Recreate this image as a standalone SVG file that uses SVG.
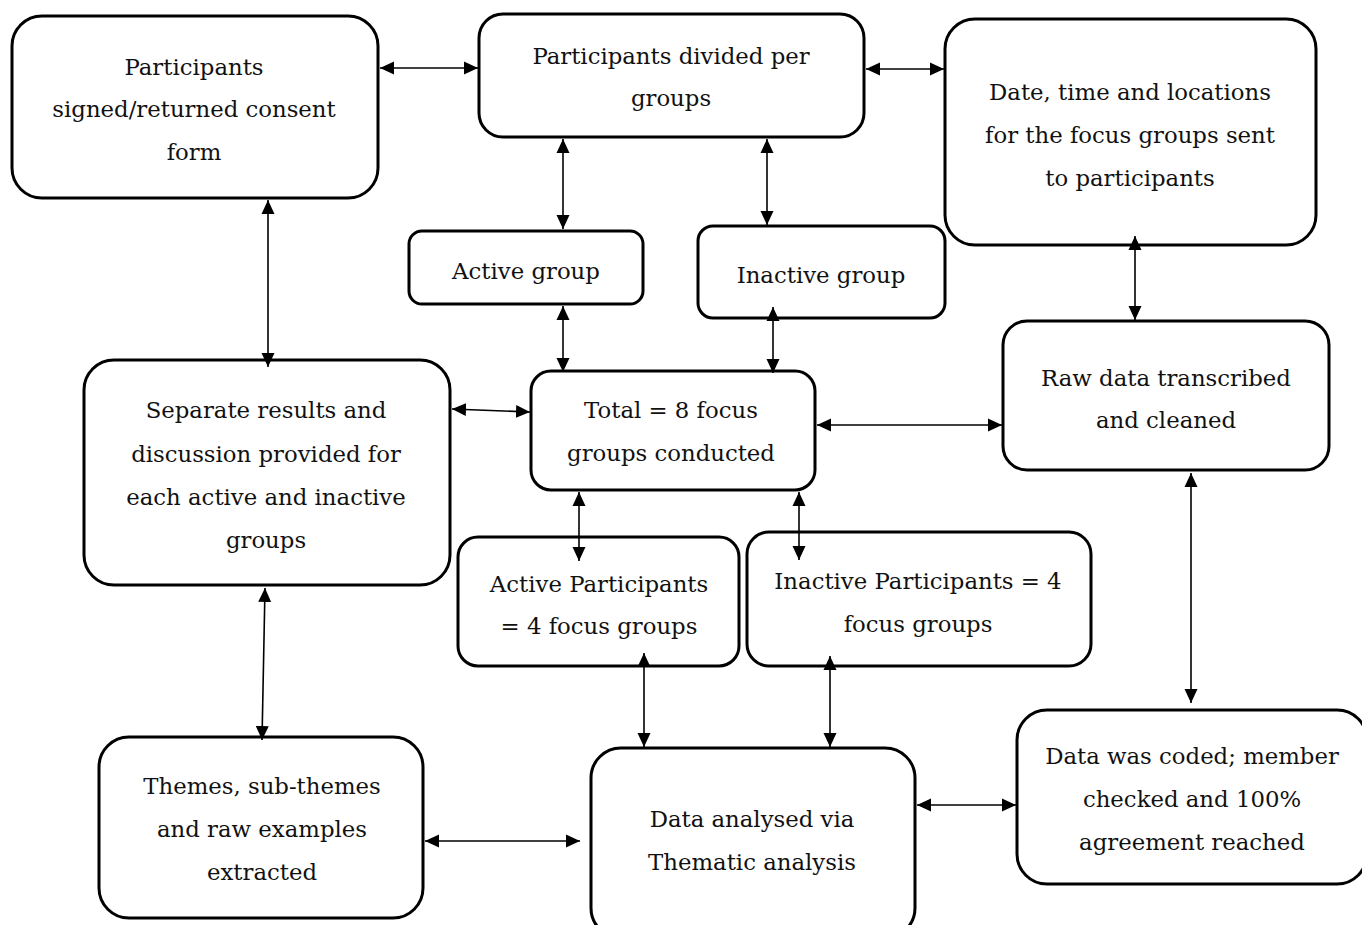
<svg xmlns="http://www.w3.org/2000/svg" width="1362" height="925" viewBox="0 0 1362 925">
<style>
.box{fill:#fff;stroke:#000;stroke-width:3}
.t{font-family:"DejaVu Serif","Liberation Serif",serif;font-size:22.8px;fill:#111;text-anchor:middle}
.c line{stroke:#000;stroke-width:1.6;marker-start:url(#ah);marker-end:url(#ah)}
</style>
<defs>
<marker id="ah" markerUnits="userSpaceOnUse" markerWidth="14" markerHeight="14" viewBox="0 0 14 14" refX="14" refY="7" orient="auto-start-reverse">
<path d="M0,0.5 L14,7 L0,13.5 z" fill="#000"/>
</marker>
</defs>
<rect width="1362" height="925" fill="#fff"/>
<g id="n1"><rect class="box" x="12" y="16" width="366" height="182" rx="30"/>
<text class="t" x="194" y="75">Participants</text><text class="t" x="194" y="117">signed/returned consent</text><text class="t" x="194" y="160">form</text></g>
<g id="n2"><rect class="box" x="479" y="14" width="385" height="123" rx="24"/>
<text class="t" x="671" y="64">Participants divided per</text><text class="t" x="671" y="106">groups</text></g>
<g id="n3"><rect class="box" x="945" y="19" width="371" height="226" rx="30"/>
<text class="t" x="1130" y="100">Date, time and locations</text><text class="t" x="1130" y="143">for the focus groups sent</text><text class="t" x="1130" y="186">to participants</text></g>
<g id="n4"><rect class="box" x="409" y="231" width="234" height="73" rx="13"/>
<text class="t" x="526" y="279">Active group</text></g>
<g id="n5"><rect class="box" x="698" y="226" width="247" height="92" rx="15"/>
<text class="t" x="821" y="283">Inactive group</text></g>
<g id="n6"><rect class="box" x="84" y="360" width="366" height="225" rx="30"/>
<text class="t" x="266" y="418">Separate results and</text><text class="t" x="266" y="462">discussion provided for</text><text class="t" x="266" y="505">each active and inactive</text><text class="t" x="266" y="548">groups</text></g>
<g id="n7"><rect class="box" x="531" y="371" width="284" height="119" rx="20"/>
<text class="t" x="671" y="418">Total = 8 focus</text><text class="t" x="671" y="461">groups conducted</text></g>
<g id="n8"><rect class="box" x="1003" y="321" width="326" height="149" rx="24"/>
<text class="t" x="1166" y="386">Raw data transcribed</text><text class="t" x="1166" y="428">and cleaned</text></g>
<g id="n9"><rect class="box" x="458" y="537" width="281" height="129" rx="20"/>
<text class="t" x="599" y="592">Active Participants</text><text class="t" x="599" y="634">= 4 focus groups</text></g>
<g id="n10"><rect class="box" x="747" y="532" width="344" height="134" rx="22"/>
<text class="t" x="918" y="589">Inactive Participants = 4</text><text class="t" x="918" y="632">focus groups</text></g>
<g id="n11"><rect class="box" x="99" y="737" width="324" height="181" rx="30"/>
<text class="t" x="262" y="794">Themes, sub-themes</text><text class="t" x="262" y="837">and raw examples</text><text class="t" x="262" y="880">extracted</text></g>
<g id="n12"><rect class="box" x="591" y="748" width="324" height="190" rx="30"/>
<text class="t" x="752" y="827">Data analysed via</text><text class="t" x="752" y="870">Thematic analysis</text></g>
<g id="n13"><rect class="box" x="1017" y="710" width="350" height="174" rx="30"/>
<text class="t" x="1192" y="764">Data was coded; member</text><text class="t" x="1192" y="807">checked and 100%</text><text class="t" x="1192" y="850">agreement reached</text></g>
<g id="connectors" class="c">
<line x1="380" y1="68" x2="478" y2="68"/>
<line x1="866" y1="69" x2="944" y2="69"/>
<line x1="563" y1="139" x2="563" y2="229"/>
<line x1="767" y1="139" x2="767" y2="225"/>
<line x1="268" y1="200" x2="268" y2="367"/>
<line x1="563" y1="306" x2="563" y2="372"/>
<line x1="773" y1="307" x2="773" y2="373"/>
<line x1="452" y1="409" x2="530" y2="412"/>
<line x1="817" y1="425" x2="1002" y2="425"/>
<line x1="1135" y1="236" x2="1135" y2="320"/>
<line x1="579" y1="492" x2="579" y2="561"/>
<line x1="799" y1="492" x2="799" y2="560"/>
<line x1="1191" y1="473" x2="1191" y2="703"/>
<line x1="265" y1="588" x2="262" y2="740"/>
<line x1="644" y1="653" x2="644" y2="747"/>
<line x1="830" y1="656" x2="830" y2="747"/>
<line x1="425" y1="841" x2="580" y2="841"/>
<line x1="917" y1="805" x2="1016" y2="805"/>
</g>
</svg>
